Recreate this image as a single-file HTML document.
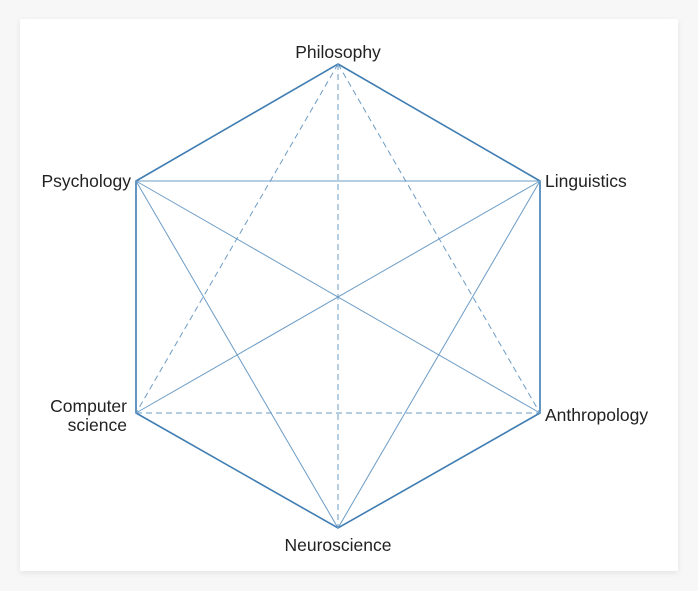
<!DOCTYPE html>
<html><head><meta charset="utf-8"><style>
html,body{margin:0;padding:0;background:#f7f7f7;width:698px;height:591px;overflow:hidden}
.card{position:absolute;left:20px;top:19px;width:658px;height:552px;background:#fff;box-shadow:0 2px 6px rgba(0,0,0,0.08)}
svg{position:absolute;left:0;top:0}
text{font-family:"Liberation Sans",sans-serif;font-size:17.5px;fill:#222}
</style></head><body>
<div class="card"></div>
<svg width="698" height="591">
<g stroke="#4a86b8" fill="none">
<polygon points="338,64 540,181 540,413 338,528 136,413 136,181" stroke-width="1.6" stroke="#3f7db2"/>
<g stroke-width="1" stroke="#6c9cc6">
<line x1="136" y1="181" x2="540" y2="181"/>
<line x1="136" y1="181" x2="540" y2="413"/>
<line x1="136" y1="181" x2="338" y2="528"/>
<line x1="136" y1="413" x2="540" y2="181"/>
<line x1="338" y1="528" x2="540" y2="181"/>
</g>
<g stroke-width="1" stroke="#6c9cc6" stroke-dasharray="6,4">
<line x1="338" y1="64" x2="136" y2="413"/>
<line x1="338" y1="64" x2="338" y2="528"/>
<line x1="338" y1="64" x2="540" y2="413"/>
<line x1="136" y1="413" x2="540" y2="413"/>
</g>
</g>
<text x="338" y="58" text-anchor="middle">Philosophy</text>
<text x="131" y="187" text-anchor="end">Psychology</text>
<text x="545" y="187">Linguistics</text>
<text x="545" y="421">Anthropology</text>
<text x="127" y="412" text-anchor="end">Computer</text>
<text x="127" y="431" text-anchor="end">science</text>
<text x="338" y="551" text-anchor="middle">Neuroscience</text>
</svg>
</body></html>
